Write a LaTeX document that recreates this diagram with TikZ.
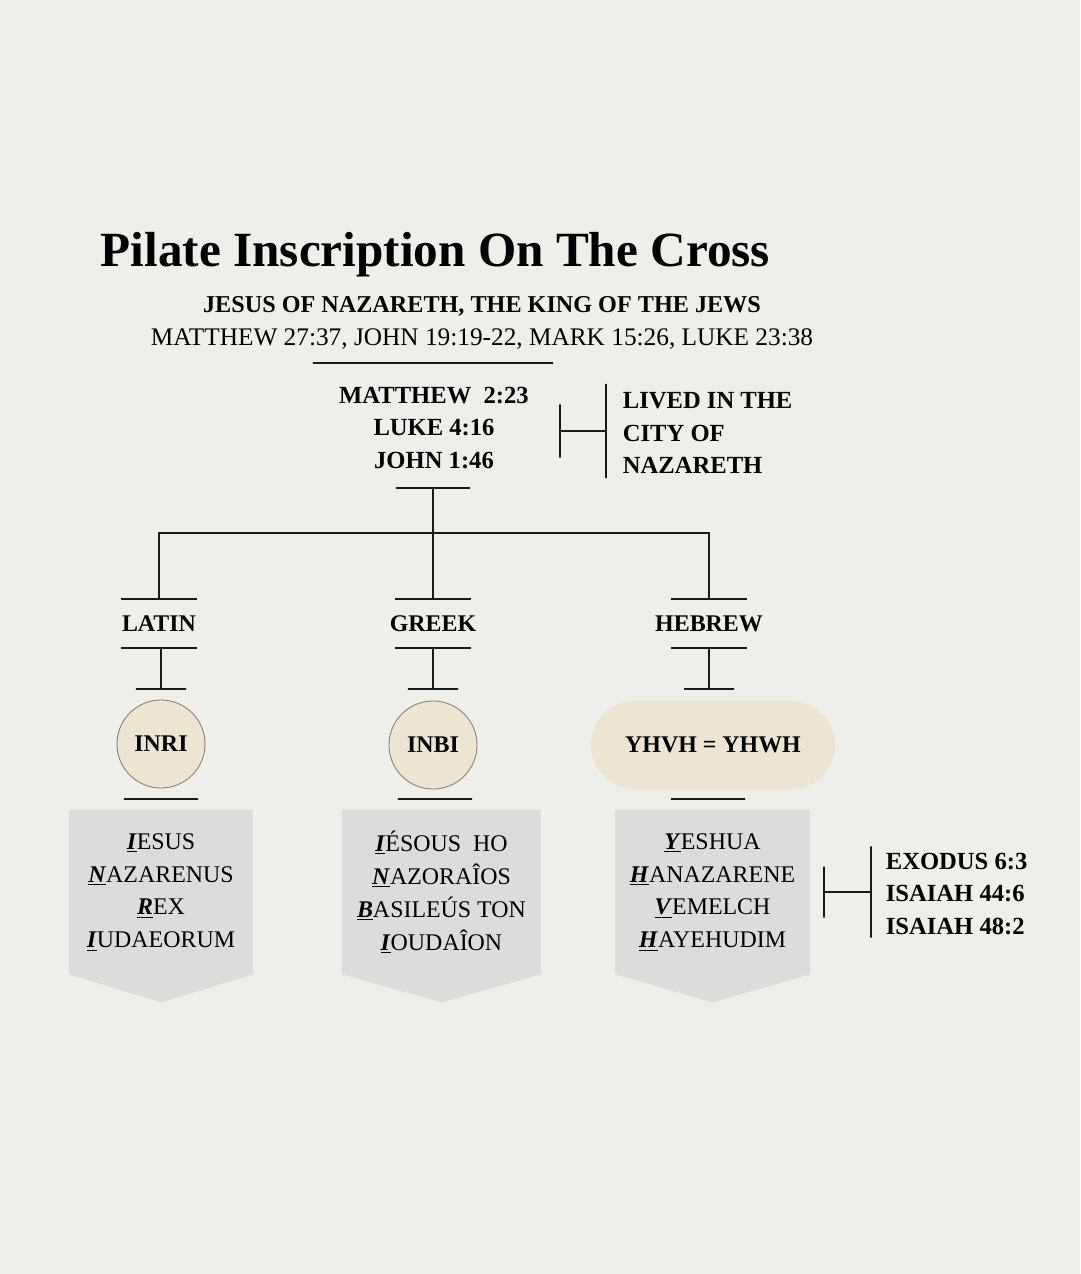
\documentclass[tikz,border=0pt]{standalone}
\usepackage{fontspec}
\setmainfont{Liberation Serif}
\usetikzlibrary{positioning,shapes,backgrounds}

\definecolor{paper}{HTML}{EEEFEB}
\definecolor{disc}{HTML}{EDE5D4}
\definecolor{discline}{HTML}{8C7A62}
\definecolor{panel}{HTML}{DCDCDB}
\definecolor{ink}{HTML}{1A1A1A}

\newcommand{\initial}[1]{\underline{\textbf{\textit{#1}}}}

\begin{document}
\begin{tikzpicture}[x=0.025cm, y=-0.025cm, line width=1.2pt, draw=ink]
    \tikzstyle{heading}  = [inner sep=0pt, font=\fontsize{35}{40}\selectfont\bfseries]
    \tikzstyle{refs}     = [inner sep=0pt, font=\fontsize{17.5}{23.4}\selectfont\bfseries]
    \tikzstyle{langname} = [inner sep=0pt, minimum width=1.85cm, minimum height=1.175cm, font=\fontsize{17}{20}\selectfont\bfseries]
    \tikzstyle{tickbar}  = [draw, inner sep=0pt, minimum height=0pt, minimum width=1.25cm]
    \tikzstyle{stem}     = [draw, inner sep=0pt, minimum width=0pt]
    \tikzstyle{seal}     = [circle, draw=discline, line width=0.6pt, fill=disc, minimum size=2.2cm, inner sep=0pt, font=\fontsize{17}{20}\selectfont\bfseries]
    \tikzstyle{pill}     = [rectangle, rounded corners=1.1cm, fill=disc, minimum width=6.1cm, minimum height=2.2cm, font=\fontsize{17}{20}\selectfont\bfseries]
    \tikzstyle{panelbox} = [inner sep=0pt, minimum height=4.075cm, align=center, font=\fontsize{17}{23.4}\selectfont]

    \useasboundingbox (0,0) rectangle (1080,1274);

    % title block
    \node [heading, anchor=west] (title) at (100,255) {Pilate Inscription On The Cross};
    \node [refs, font=\fontsize{17.2}{20}\selectfont\bfseries] (king) at (482,306) {JESUS OF NAZARETH, THE KING OF THE JEWS};
    \node [inner sep=0pt, font=\fontsize{18}{20}\selectfont] (gospels) at (482,339) {MATTHEW 27:37, JOHN 19:19-22, MARK 15:26, LUKE 23:38};
    \node [tickbar, minimum width=6cm] (headbar) at (433,363) {};

    % Nazareth references
    \node [refs, align=center] (naz) at (434,428) {MATTHEW\ \ 2:23\\LUKE 4:16\\JOHN 1:46};
    \node [tickbar, minimum width=1.85cm] (nazbar) at (433,488) {};
    \node [stem, minimum height=1.325cm] (livedstub) at (560,431) {};
    \node [stem, minimum height=2.35cm] (livedbar) at (606,431) {};
    \node [refs, align=left, anchor=west] (lived) at (622,433) {LIVED IN THE\\CITY OF\\NAZARETH};
    \coordinate (fork) at (433,533);

    % languages
    \node [langname] (latin)  at (159,623.5) {\makebox[0pt]{LATIN}};
    \node [langname] (greek)  at (433,623.5) {\makebox[0pt]{GREEK}};
    \node [langname] (hebrew) at (709,623.5) {\makebox[0pt]{HEBREW}};

    \node [tickbar] (latbar) at (161,689) {};
    \node [tickbar] (grebar) at (433,689) {};
    \node [tickbar] (hebbar) at (709,689) {};

    \node [seal] (inri) at (161,744) {INRI};
    \node [seal] (inbi) at (433,745) {INBI};
    \node [pill] (yhwh) at (713,745) {YHVH = YHWH};

    \node [tickbar, minimum width=1.85cm] (latfoot) at (161,799) {};
    \node [tickbar, minimum width=1.85cm] (grefoot) at (435,799) {};
    \node [tickbar, minimum width=1.85cm] (hebfoot) at (708,799) {};

    % inscriptions
    \node [panelbox, minimum width=4.55cm] (latpanel) at (161,892) {\initial{I}ESUS\\\initial{N}AZARENUS\\\initial{R}EX\\\initial{I}UDAEORUM};
    \node [panelbox, minimum width=4.925cm] (grepanel) at (441.5,892) {\initial{I}ÉSOUS\ \ HO\\\initial{N}AZORAÎOS\\\initial{B}ASILEÚS TON\\\initial{I}OUDAÎON};
    \node [panelbox, minimum width=4.825cm] (hebpanel) at (712.5,892) {\initial{Y}ESHUA\\\initial{H}ANAZARENE\\\initial{V}EMELCH\\\initial{H}AYEHUDIM};

    \node [stem, minimum height=1.275cm] (namestub) at (824,892) {};
    \node [stem, minimum height=2.275cm] (namebar) at (871,892) {};
    \node [refs, align=left, anchor=west] (exodus) at (885,894) {EXODUS 6:3\\ISAIAH 44:6\\ISAIAH 48:2};

    % connectors
    \draw (livedstub) -- (livedbar);
    \draw (nazbar) -- (greek.north);
    \draw (latin.north) |- (fork) -| (hebrew.north);
    \foreach \lang/\bar in {latin/latbar, greek/grebar, hebrew/hebbar}
        \draw (\lang.south -| \bar) -- (\bar);
    \foreach \lang in {latin, greek, hebrew} {
        \draw (\lang.north west) -- (\lang.north east);
        \draw (\lang.south west) -- (\lang.south east);
    }
    \draw (namestub) -- (namebar);

    \begin{scope}[on background layer]
        \fill [paper] (0,0) rectangle (1080,1274);
        \foreach \p in {latpanel, grepanel, hebpanel}
            \fill [panel] (\p.north west) -- (\p.north east) -- (\p.south east)
                -- ([yshift=-0.7cm]\p.south) -- (\p.south west) -- cycle;
    \end{scope}
\end{tikzpicture}
\end{document}
